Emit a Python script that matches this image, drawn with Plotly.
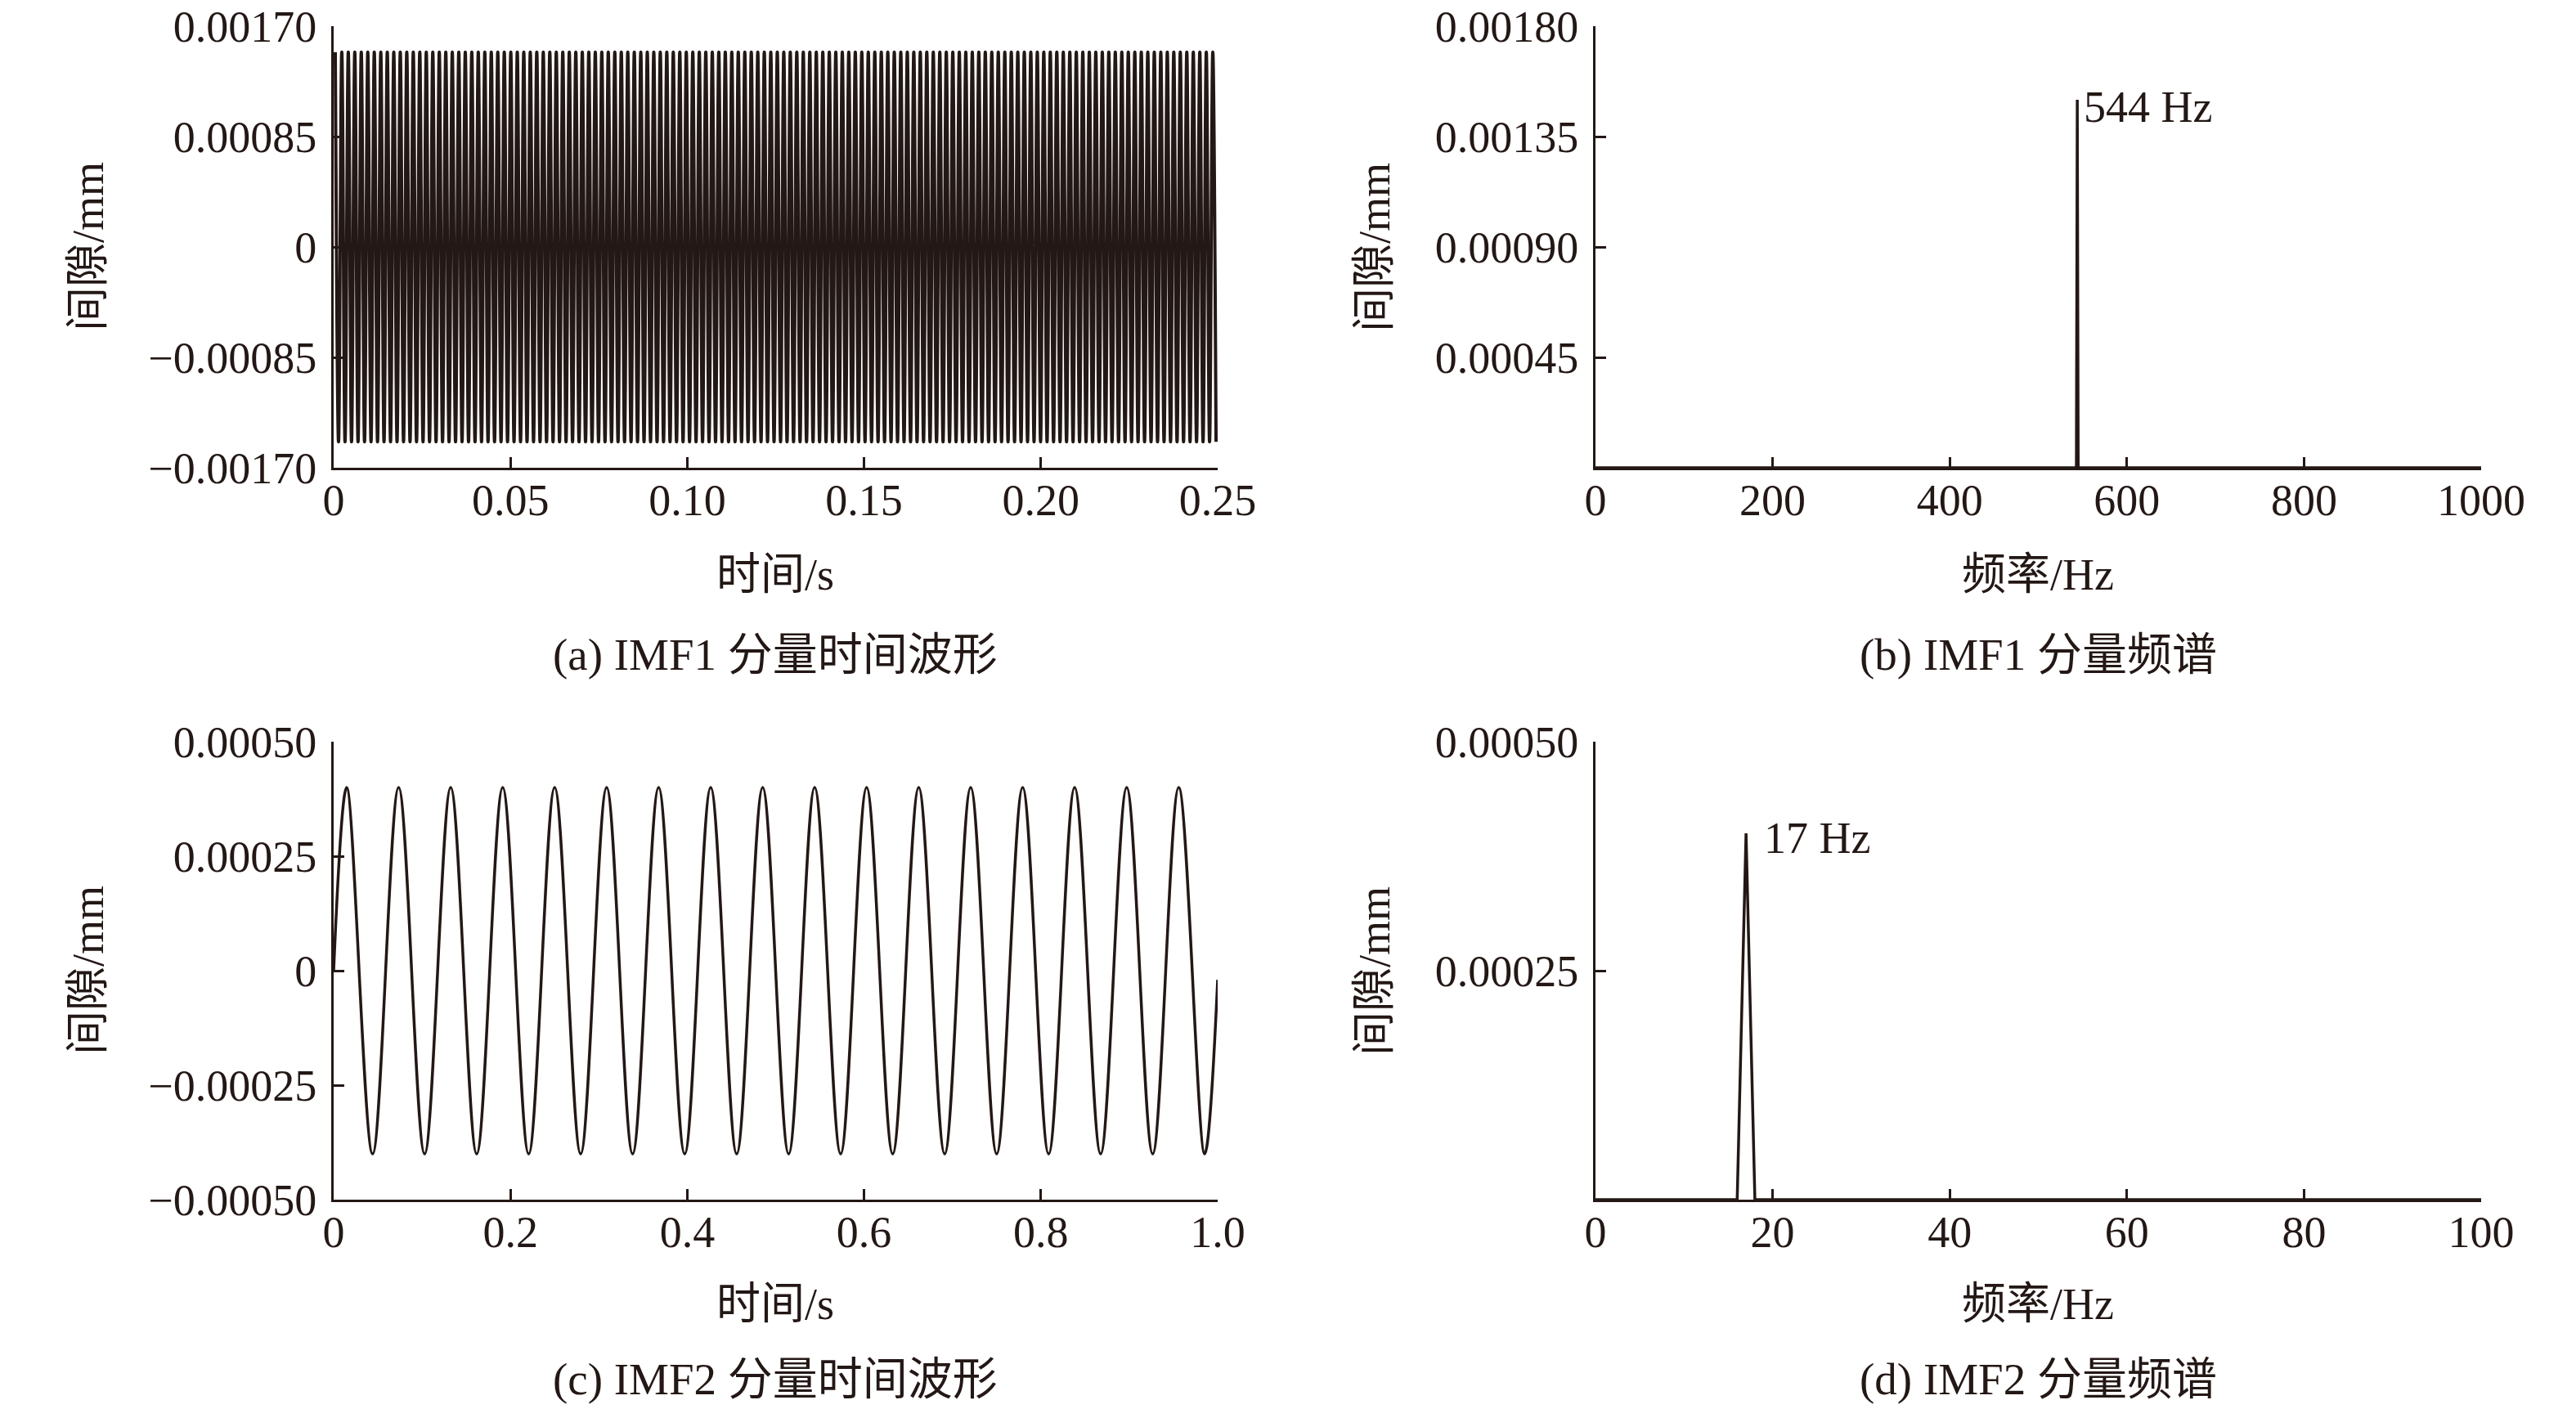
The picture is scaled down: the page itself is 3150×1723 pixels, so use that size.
import plotly.graph_objects as go
from plotly.subplots import make_subplots

INK = "#231815"
FONT = "Liberation Serif, Noto Sans CJK SC"

# (a) IMF1 waveform: extrema, one every half period (544 Hz)
IMF1_T0 = 0.00046
IMF1_DT = 0.00091912
IMF1_VALUES = [
    0.0015, -0.0015, 0.0015, -0.0015, 0.0015, -0.0015, 0.0015, -0.0015,
    0.0015, -0.0015, 0.0015, -0.0015, 0.0015, -0.0015, 0.0015, -0.0015,
    0.0015, -0.0015, 0.0015, -0.0015, 0.0015, -0.0015, 0.0015, -0.0015,
    0.0015, -0.0015, 0.0015, -0.0015, 0.0015, -0.0015, 0.0015, -0.0015,
    0.0015, -0.0015, 0.0015, -0.0015, 0.0015, -0.0015, 0.0015, -0.0015,
    0.0015, -0.0015, 0.0015, -0.0015, 0.0015, -0.0015, 0.0015, -0.0015,
    0.0015, -0.0015, 0.0015, -0.0015, 0.0015, -0.0015, 0.0015, -0.0015,
    0.0015, -0.0015, 0.0015, -0.0015, 0.0015, -0.0015, 0.0015, -0.0015,
    0.0015, -0.0015, 0.0015, -0.0015, 0.0015, -0.0015, 0.0015, -0.0015,
    0.0015, -0.0015, 0.0015, -0.0015, 0.0015, -0.0015, 0.0015, -0.0015,
    0.0015, -0.0015, 0.0015, -0.0015, 0.0015, -0.0015, 0.0015, -0.0015,
    0.0015, -0.0015, 0.0015, -0.0015, 0.0015, -0.0015, 0.0015, -0.0015,
    0.0015, -0.0015, 0.0015, -0.0015, 0.0015, -0.0015, 0.0015, -0.0015,
    0.0015, -0.0015, 0.0015, -0.0015, 0.0015, -0.0015, 0.0015, -0.0015,
    0.0015, -0.0015, 0.0015, -0.0015, 0.0015, -0.0015, 0.0015, -0.0015,
    0.0015, -0.0015, 0.0015, -0.0015, 0.0015, -0.0015, 0.0015, -0.0015,
    0.0015, -0.0015, 0.0015, -0.0015, 0.0015, -0.0015, 0.0015, -0.0015,
    0.0015, -0.0015, 0.0015, -0.0015, 0.0015, -0.0015, 0.0015, -0.0015,
    0.0015, -0.0015, 0.0015, -0.0015, 0.0015, -0.0015, 0.0015, -0.0015,
    0.0015, -0.0015, 0.0015, -0.0015, 0.0015, -0.0015, 0.0015, -0.0015,
    0.0015, -0.0015, 0.0015, -0.0015, 0.0015, -0.0015, 0.0015, -0.0015,
    0.0015, -0.0015, 0.0015, -0.0015, 0.0015, -0.0015, 0.0015, -0.0015,
    0.0015, -0.0015, 0.0015, -0.0015, 0.0015, -0.0015, 0.0015, -0.0015,
    0.0015, -0.0015, 0.0015, -0.0015, 0.0015, -0.0015, 0.0015, -0.0015,
    0.0015, -0.0015, 0.0015, -0.0015, 0.0015, -0.0015, 0.0015, -0.0015,
    0.0015, -0.0015, 0.0015, -0.0015, 0.0015, -0.0015, 0.0015, -0.0015,
    0.0015, -0.0015, 0.0015, -0.0015, 0.0015, -0.0015, 0.0015, -0.0015,
    0.0015, -0.0015, 0.0015, -0.0015, 0.0015, -0.0015, 0.0015, -0.0015,
    0.0015, -0.0015, 0.0015, -0.0015, 0.0015, -0.0015, 0.0015, -0.0015,
    0.0015, -0.0015, 0.0015, -0.0015, 0.0015, -0.0015, 0.0015, -0.0015,
    0.0015, -0.0015, 0.0015, -0.0015, 0.0015, -0.0015, 0.0015, -0.0015,
    0.0015, -0.0015, 0.0015, -0.0015, 0.0015, -0.0015, 0.0015, -0.0015,
    0.0015, -0.0015, 0.0015, -0.0015, 0.0015, -0.0015, 0.0015, -0.0015,
    0.0015, -0.0015, 0.0015, -0.0015, 0.0015, -0.0015, 0.0015, -0.0015,
]

# (b) IMF1 spectrum
IMF1_FREQ = [0, 543, 544, 545, 1000]
IMF1_AMP = [0, 0, 0.0015, 0, 0]

# (c) IMF2 waveform: start, extrema (17 Hz), end
IMF2_T = [
    0, 0.0147, 0.0441, 0.0735, 0.1029, 0.1324, 0.1618, 0.1912, 0.2206,
    0.2500, 0.2794, 0.3088, 0.3382, 0.3676, 0.3971, 0.4265, 0.4559,
    0.4853, 0.5147, 0.5441, 0.5735, 0.6029, 0.6324, 0.6618, 0.6912,
    0.7206, 0.7500, 0.7794, 0.8088, 0.8382, 0.8676, 0.8971, 0.9265,
    0.9559, 0.9853, 1.0,
]
IMF2_VALUES = [
    0, 0.0004, -0.0004, 0.0004, -0.0004, 0.0004, -0.0004, 0.0004, -0.0004,
    0.0004, -0.0004, 0.0004, -0.0004, 0.0004, -0.0004, 0.0004, -0.0004,
    0.0004, -0.0004, 0.0004, -0.0004, 0.0004, -0.0004, 0.0004, -0.0004,
    0.0004, -0.0004, 0.0004, -0.0004, 0.0004, -0.0004, 0.0004, -0.0004,
    0.0004, -0.0004, -0.00002,
]

# (d) IMF2 spectrum
IMF2_FREQ = [0, 16, 17, 18, 100]
IMF2_AMP = [0, 0, 0.0004, 0, 0]

# ticks
A_XTICKS = [0, 0.05, 0.10, 0.15, 0.20, 0.25]
A_XLABELS = ["0", "0.05", "0.10", "0.15", "0.20", "0.25"]
A_YTICKS = [-0.0017, -0.00085, 0, 0.00085, 0.0017]
A_YLABELS = ["\u22120.00170", "\u22120.00085", "0", "0.00085", "0.00170"]
B_XTICKS = [0, 200, 400, 600, 800, 1000]
B_YTICKS = [0.00045, 0.0009, 0.00135, 0.0018]
B_YLABELS = ["0.00045", "0.00090", "0.00135", "0.00180"]
C_XTICKS = [0, 0.2, 0.4, 0.6, 0.8, 1.0]
C_XLABELS = ["0", "0.2", "0.4", "0.6", "0.8", "1.0"]
C_YTICKS = [-0.0005, -0.00025, 0, 0.00025, 0.0005]
C_YLABELS = ["\u22120.00050", "\u22120.00025", "0", "0.00025", "0.00050"]
D_XTICKS = [0, 20, 40, 60, 80, 100]
D_YTICKS = [0.00025, 0.0005]
D_YLABELS = ["0.00025", "0.00050"]

CAPTIONS = ["(a) IMF1 分量时间波形", "(b) IMF1 分量频谱",
            "(c) IMF2 分量时间波形", "(d) IMF2 分量频谱"]
X_TITLES = ["时间/s", "频率/Hz", "时间/s", "频率/Hz"]
Y_TITLE = "间隙/mm"

W, H = 3150, 1723

fig = make_subplots(rows=2, cols=2)

line = dict(color=INK, width=3.5)
fig.add_trace(go.Scatter(x0=IMF1_T0, dx=IMF1_DT, y=IMF1_VALUES, mode="lines",
                         line=dict(color=INK, width=4, shape="spline")), row=1, col=1)
fig.add_trace(go.Scatter(x=IMF1_FREQ, y=IMF1_AMP, mode="lines", line=line), row=1, col=2)
fig.add_trace(go.Scatter(x=IMF2_T, y=IMF2_VALUES, mode="lines",
                         line=dict(color=INK, width=3.5, shape="spline")), row=2, col=1)
fig.add_trace(go.Scatter(x=IMF2_FREQ, y=IMF2_AMP, mode="lines", line=line), row=2, col=2)

axis_style = dict(
    showline=True, linecolor=INK, linewidth=3, mirror=False,
    ticks="inside", ticklen=13, tickwidth=3, tickcolor=INK,
    showgrid=False, zeroline=False, automargin=False,
    tickfont=dict(family=FONT, size=54, color=INK),
)
fig.update_xaxes(**axis_style, ticklabelstandoff=-10)
fig.update_yaxes(**axis_style, ticklabelstandoff=7)

# plot areas in pixels, converted to paper fractions
col_px = [(408, 1489), (1951, 3034)]
row_px = [(32, 572), (907, 1467)]
for r in range(2):
    for c in range(2):
        x0, x1 = col_px[c]
        y0, y1 = row_px[r]
        fig.update_xaxes(domain=[x0 / W, x1 / W], row=r + 1, col=c + 1)
        fig.update_yaxes(domain=[1 - y1 / H, 1 - y0 / H], row=r + 1, col=c + 1)

fig.update_xaxes(range=[0, 0.25], tickvals=A_XTICKS, ticktext=A_XLABELS, row=1, col=1)
fig.update_yaxes(range=[-0.0017, 0.0017], tickvals=A_YTICKS, ticktext=A_YLABELS, row=1, col=1)
fig.update_xaxes(range=[0, 1000], tickvals=B_XTICKS, ticktext=[str(v) for v in B_XTICKS], row=1, col=2)
fig.update_yaxes(range=[0, 0.0018], tickvals=B_YTICKS, ticktext=B_YLABELS, row=1, col=2)
fig.update_xaxes(range=[0, 1.0], tickvals=C_XTICKS, ticktext=C_XLABELS, row=2, col=1)
fig.update_yaxes(range=[-0.0005, 0.0005], tickvals=C_YTICKS, ticktext=C_YLABELS, row=2, col=1)
fig.update_xaxes(range=[0, 100], tickvals=D_XTICKS, ticktext=[str(v) for v in D_XTICKS], row=2, col=2)
fig.update_yaxes(range=[0, 0.0005], tickvals=D_YTICKS, ticktext=D_YLABELS, row=2, col=2)

annotations = []
text_font = dict(family=FONT, size=54, color=INK)
col_center = [948, 2492]
ytitle_x = [108, 1681]
xtitle_y = [703, 1595]
caption_y = [800, 1686]
for r in range(2):
    for c in range(2):
        i = r * 2 + c
        annotations.append(dict(text=X_TITLES[i], x=col_center[c] / W, y=1 - xtitle_y[r] / H,
                                xref="paper", yref="paper", showarrow=False,
                                xanchor="center", yanchor="middle", font=text_font))
        annotations.append(dict(text=CAPTIONS[i], x=col_center[c] / W, y=1 - caption_y[r] / H,
                                xref="paper", yref="paper", showarrow=False,
                                xanchor="center", yanchor="middle",
                                font=dict(family=FONT, size=55, color=INK)))
        yc = (row_px[r][0] + row_px[r][1]) / 2
        annotations.append(dict(text=Y_TITLE, x=ytitle_x[c] / W, y=1 - yc / H,
                                xref="paper", yref="paper", showarrow=False, textangle=-90,
                                xanchor="center", yanchor="middle", font=text_font))

# peak labels
annotations.append(dict(text="544 Hz", x=544, y=0.00147, xref="x2", yref="y2",
                        showarrow=False, xanchor="left", yanchor="middle",
                        xshift=6, font=text_font))
annotations.append(dict(text="17 Hz", x=17, y=0.000395, xref="x4", yref="y4",
                        showarrow=False, xanchor="left", yanchor="middle",
                        xshift=20, font=text_font))

fig.update_layout(
    width=W, height=H,
    margin=dict(l=0, r=0, t=0, b=0, autoexpand=False),
    paper_bgcolor="white", plot_bgcolor="white",
    showlegend=False,
    annotations=annotations,
    font=dict(family=FONT, color=INK),
)

fig.write_html("out.html", config={"displayModeBar": False},
               post_script="document.body.style.margin='0';document.body.style.overflow='hidden';")
